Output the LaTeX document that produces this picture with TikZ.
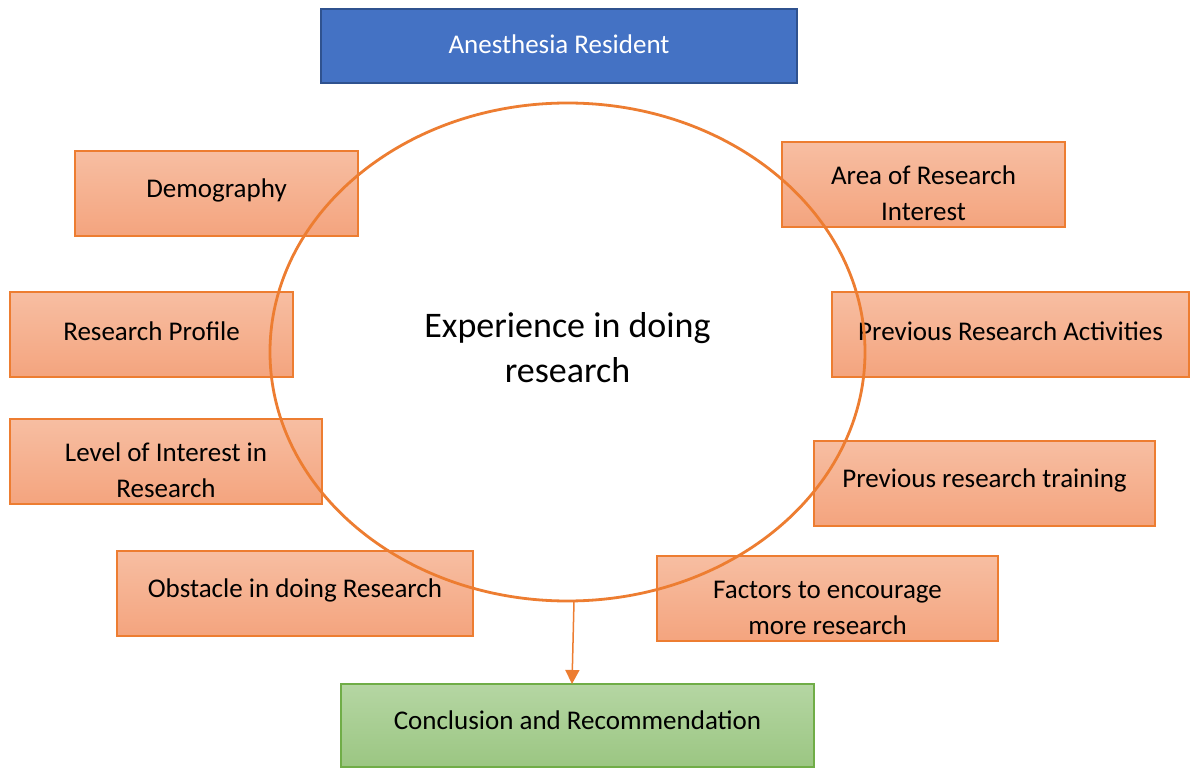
\documentclass[tikz,border=0pt]{standalone}
\usepackage{fontspec}
\setmainfont{Carlito}
\usetikzlibrary{shapes.geometric,arrows.meta}
\begin{document}
\begin{tikzpicture}[x=1pt,y=-1pt,
  obox/.style={draw=orgline,line width=1.2pt,top color=otop,bottom color=obot,
    minimum height=85pt,inner sep=0pt},
  otext/.style={align=center,inner sep=0pt,font=\fontsize{27}{36}\selectfont,text=black},
  bbox/.style={draw=blueline,line width=2pt,fill=bluefill,
    minimum height=74pt,inner sep=0pt},
  gbox/.style={draw=greenline,line width=1.5pt,top color=gtop,bottom color=gbot,
    minimum height=83pt,inner sep=0pt},
  conn/.style={draw=orgline,line width=1.5pt,-{Triangle[length=14pt,width=14pt]}}
]
\definecolor{orgline}{HTML}{ED7D31}
\definecolor{otop}{HTML}{F7BEA2}
\definecolor{obot}{HTML}{F4A47E}
\definecolor{blueline}{HTML}{2F528F}
\definecolor{bluefill}{HTML}{4472C4}
\definecolor{greenline}{HTML}{70AD47}
\definecolor{gtop}{HTML}{B5D6A3}
\definecolor{gbot}{HTML}{9BC682}
\useasboundingbox (0,0) rectangle (1200,778);
\fill[white] (0,0) rectangle (1200,778);

\node[bbox,minimum width=476pt] (res) at (559,46) {};
\node[otext,text=white] (res-t) at ([yshift=2pt]res.center) {Anesthesia Resident};

\node[obox,minimum width=283pt] (demo) at (216.5,193.5) {};
\node[obox,minimum width=283pt] (area) at (923.5,184.5) {};
\node[obox,minimum width=283pt] (prof) at (151.5,334.5) {};
\node[obox,minimum width=357pt] (prev) at (1010.5,334.5) {};
\node[obox,minimum width=312pt] (lvl) at (166,461.5) {};
\node[obox,minimum width=341pt] (train) at (984.5,483.5) {};
\node[obox,minimum width=356pt] (obst) at (295,593.5) {};
\node[obox,minimum width=341pt] (fact) at (827.5,598.5) {};
\node[gbox,minimum width=473pt] (concl) at (577.5,725.5) {};

\node[otext] (demo-t) at ([yshift=3pt]demo.center) {Demography};
\node[otext] (area-t) at ([yshift=-9pt]area.center) {Area of Research\\Interest};
\node[otext] (prof-t) at ([yshift=3pt]prof.center) {Research Profile};
\node[otext] (prev-t) at ([yshift=3pt]prev.center) {Previous Research Activities};
\node[otext] (lvl-t) at ([yshift=-9pt]lvl.center) {Level of Interest in\\Research};
\node[otext] (train-t) at ([yshift=3pt]train.center) {Previous research training};
\node[otext] (obst-t) at ([yshift=3pt]obst.center) {Obstacle in doing Research};
\node[otext] (fact-t) at ([yshift=-9pt]fact.center) {Factors to encourage\\more research};
\node[otext] (concl-t) at ([yshift=5pt]concl.center) {Conclusion and Recommendation};

\node[draw=orgline,line width=2.8pt,ellipse,minimum width=595pt,minimum height=498pt,
  inner sep=0pt] (exp) at (567.5,352) {};
\node[align=center,inner sep=0pt,font=\fontsize{36}{45}\selectfont] (exp-t)
  at ([yshift=4.5pt]exp.center) {Experience in doing\\research};

\coordinate (a1) at (574,601);
\coordinate (a2) at (572,684);
\draw[conn] (a1) -- (a2);
\end{tikzpicture}
\end{document}
